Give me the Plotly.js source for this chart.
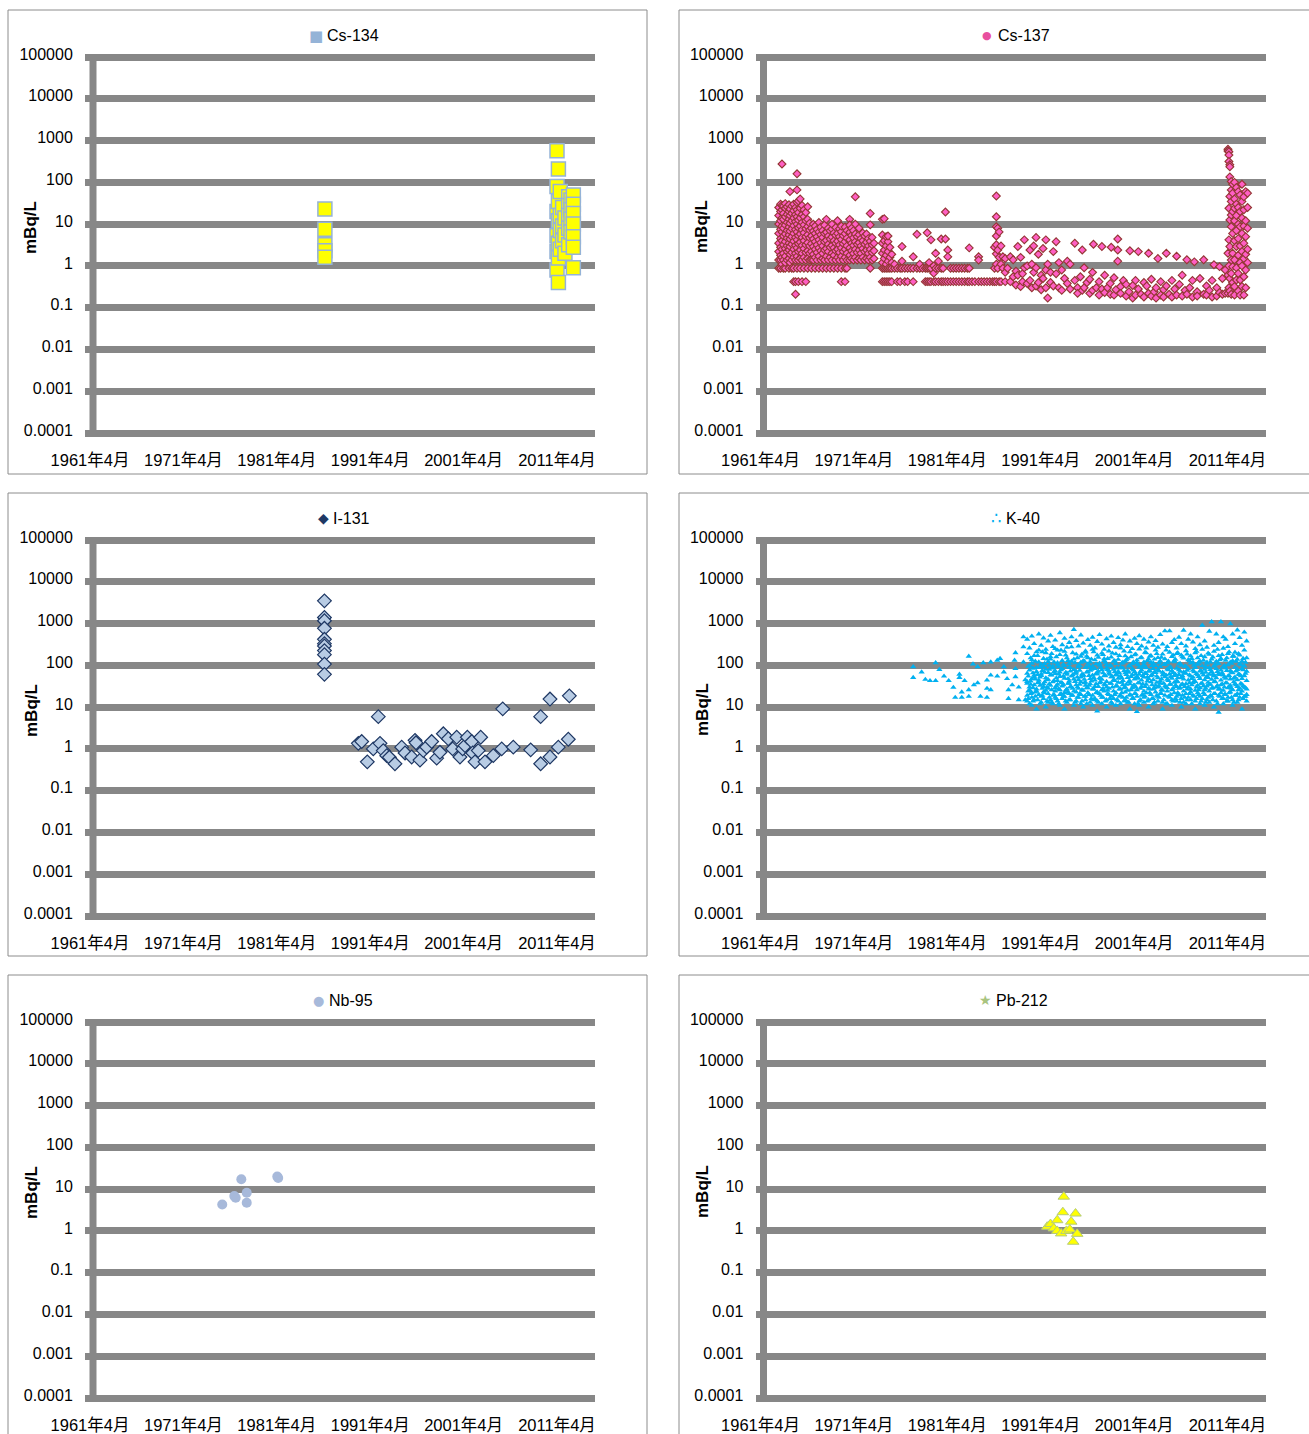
<!DOCTYPE html>
<html><head><meta charset="utf-8">
<script src="https://cdn.plot.ly/plotly-3.0.1.min.js"></script>
<style>body{margin:0;background:#fff}#chart{width:1309px;height:1434px}</style>
</head><body><div id="chart"></div>
<script>
// ---------- tick labels / names ----------
const xTickVals=[1961.25,1971.25,1981.25,1991.25,2001.25,2011.25];
const xTickText=['1961年4月','1971年4月','1981年4月','1991年4月','2001年4月','2011年4月'];
const yTickVals=[1e-4,1e-3,1e-2,0.1,1,10,100,1000,10000,100000];
const yTickText=['0.0001','0.001','0.01','0.1','1','10','100','1000','10000','100000'];
const seriesNames=['Cs-134','Cs-137','I-131','K-40','Nb-95','Pb-212'];
const yTitle='mBq/L';

// ---------- data: [decimal year, [values mBq/L]] ----------
const cs134=[[1986.4,[23,7.5,3.2,2.3,1.6]],
[2011.25,[570,80,20,5.3,2.2,0.8]],[2011.4,[210,35,12,3.5,1.55,0.4]],[2011.6,[60,16,7,2.5]],[2011.85,[25,9,4]],[2012.1,[14,5.5,2.0]],
[2012.5,[45,28,16,8,3.2]],[2012.75,[38,22,13,6.5]],[2013.0,[50,30,18,10,5,2.8,0.9]]];

const cs137=[[1963.2,[0.88,1.38,2.2,3.5,6,10,16,25]],[1963.4,[0.88,1.38,1.8,2.8,4.5,7.5,12,20,30]],[1963.55,[275,1.1,1.6,2.5,4,6.5,9,14,22,28]],
[1963.7,[0.88,1.38,2,3.2,5.2,8,13,18,27]],[1963.9,[0.88,1.2,1.7,2.6,3.8,5.8,9.5,15,24,31]],[1964.1,[1.38,2.2,3,4.6,7,11,17,26]],
[1964.3,[0.88,1.5,2.4,3.5,5.5,8.5,13,20,29]],[1964.4,[60,1.2,1.9,2.9,4.4,6.8,10.5,16,23]],[1964.6,[0.88,1.38,2.1,3.3,5,7.7,12,18,27]],
[1964.8,[0.42,0.88,1.6,2.5,3.9,6,9.2,14,21,30]],[1965.0,[0.21,0.42,1.38,2,3.1,4.8,7.4,11.5,17,25]],[1965.16,[160,66,0.88,1.7,2.7,4.2,6.5,10,15,22,33]],
[1965.3,[0.42,1.38,2.2,3.4,5.3,8.2,12.5,19,36]],[1965.5,[0.88,1.5,2.4,3.7,5.8,9,14,24,40]],[1965.7,[0.42,1.38,2,3.1,4.8,7.3,11,17,28]],
[1965.9,[0.88,1.6,2.6,4,6.2,9.6,15,22]],[1966.1,[0.42,1.38,2.1,3.2,5,7.8,12,19]],[1966.3,[0.88,1.5,2.3,3.6,5.6,8.8,13,26]],
[1966.5,[1.38,2.0,3.0,4.7,7.2,10.5]],[1966.7,[0.88,1.4,2.2,3.4,5.2,8]],[1966.9,[1.38,1.9,2.9,4.4,6.8,10]],[1967.1,[0.88,1.6,2.5,3.8,6,9]],
[1967.3,[1.38,2.1,3.2,5,7.5]],[1967.5,[0.88,1.7,2.7,4.2,6.5,11]],[1967.7,[1.38,2.3,3.6,5.6,8.5]],[1967.9,[0.88,1.5,2,3,4.8,7]],
[1968.1,[1.38,2.4,3.8,6,9.5]],[1968.3,[0.88,1.7,2.6,4.1,6.4,13]],[1968.5,[1.38,2.2,3.3,5.2,8]],[1968.7,[0.88,1.6,2.8,4.4,6.9]],
[1968.9,[1.38,2,3.1,4.9,7.6,10]],[1969.1,[0.88,1.8,2.7,4,6.1]],[1969.3,[1.38,2.3,3.5,5.4,8.3]],[1969.5,[0.88,1.6,2.5,3.9,6,12]],
[1969.7,[1.38,2.1,3.2,5,7.7]],[1969.9,[0.42,0.88,1.7,2.7,4.3,6.6,9]],[1970.1,[1.38,2.2,3.4,5.3]],[1970.3,[0.42,0.88,1.6,2.5,3.8,5.9,8.5]],
[1970.5,[0.88,1.38,2.0,3.0,4.6,7]],[1970.8,[13,1.38,1.8,2.7,4.2,6.4,9.5]],[1971.0,[1.5,2.3,3.5,5.4,8]],[1971.2,[1.38,2.0,3.1,4.7,7]],
[1971.4,[45,1.6,2.5,3.8,5.8,10]],[1971.6,[1.38,2.1,3.3,5]],[1971.8,[1.5,2.4,3.6,5.6,8]],[1972.0,[1.38,2,3,4.5]],[1972.2,[1.6,2.6,4,6.1]],
[1972.4,[1.38,2.2,3.3,5.2]],[1972.6,[1.5,2.4,3.7,5.8]],[1972.8,[1.38,2,3.0,4.5]],[1973.0,[18,9.6,0.88,1.6,2.5,3.9]],[1973.2,[1.38,2.1,3.2,4.8]],
[1973.4,[1.5,2.3,3.5]],
[1974.3,[0.42,0.88,1.2,2,3.5,5.5,13]],[1974.5,[0.42,0.88,1.5,2.4,4,13.5]],[1974.7,[0.42,0.88,1.1,1.8,3,5]],[1974.9,[0.42,0.88,1.3,2.2,3.8,5.2]],
[1975.1,[0.42,0.88,1.6,2.8]],[1975.3,[0.42,0.88,1.2,1.9]],
[1975.6,[0.88,1.1]],[1975.9,[0.88,0.42]],[1976.2,[0.88,0.42]],[1976.4,[2.9,0.88,1.3]],[1976.7,[0.88,0.42]],[1977.0,[0.88,0.42]],[1977.3,[0.88]],
[1977.6,[1.65,0.88,0.42]],[1978.0,[5.7,0.88]],[1978.3,[0.88,1.1]],[1978.6,[0.88]],[1978.9,[0.88,0.42]],[1979.1,[6.2,0.88,0.42]],
[1979.3,[0.88,0.42,1.2]],[1979.5,[4.2,0.88,0.42]],[1979.8,[0.67,0.42,1.0]],[1980.0,[2.0,0.88,0.42]],[1980.3,[0.88,0.42,1.3]],
[1980.6,[4.4,0.88,0.42]],[1980.8,[0.88,0.42]],[1981.05,[4.4,19.5,0.42]],[1981.3,[2.4,1.65,0.42]],[1981.6,[0.88,0.42]],[1981.9,[0.88,0.42]],
[1982.2,[0.88,0.42]],[1982.5,[0.88,0.42]],[1982.8,[0.88,0.42]],[1983.1,[0.88,0.42]],[1983.4,[0.88,0.42]],[1983.6,[2.7,0.88,0.42]],
[1983.9,[0.42]],[1984.2,[0.42]],[1984.6,[1.65,1.38,0.42]],[1984.9,[0.42]],[1985.2,[0.42]],[1985.5,[0.42]],[1985.8,[0.42]],[1986.1,[0.42]],
[1986.3,[0.42,0.88,2.8]],[1986.5,[47,15,8.7,5.2,3.2,1.95,1.1,0.42]],[1986.65,[8,2.4,0.88]],[1986.8,[6.5,1.6,0.42]],
[1987.0,[3.0,1.1,0.42]],[1987.2,[1.65,0.88]],[1987.45,[1.5,0.7,0.42]],[1987.7,[0.88]],[1988.0,[1.65,0.42]],
[1988.3,[1.4,0.55]],[1988.6,[0.75,0.35]],[1988.8,[2.9,0.6]],[1989.1,[1.6,0.32]],[1989.3,[0.65,0.42]],
[1989.5,[4.2,0.9]],[1989.8,[1.0,0.38]],[1990.1,[2.4,0.45]],[1990.3,[1.1,0.3]],[1990.5,[3.0,0.7]],
[1990.75,[4.8,0.9,0.33]],[1991.0,[1.9,0.4]],[1991.3,[0.6,0.27]],[1991.5,[2.6,0.5]],[1991.8,[4.2,0.8,0.3]],
[1992.0,[0.17,1.1]],[1992.3,[0.7,0.4]],[1992.6,[2.2,0.33]],[1992.9,[3.8,0.65]],[1993.2,[1.2,0.3]],
[1993.5,[0.8,0.26]],[1993.8,[0.5]],[1994.1,[1.3,0.38]],
[1994.4,[1.1,0.28]],[1994.9,[3.5,0.45]],[1995.2,[0.3,0.22]],[1995.5,[0.55]],[1995.7,[2.4,0.26]],[1995.9,[0.9,0.3]],
[1996.2,[0.4]],[1996.5,[0.48,0.22]],[1996.8,[0.7,0.26]],[1996.9,[3.3]],[1997.2,[0.3]],[1997.5,[0.42,0.2]],
[1997.8,[2.9,0.28]],[1998.1,[0.6,0.23]],[1998.4,[0.3]],[1998.7,[0.38,0.21]],[1998.8,[2.8]],[1999.1,[0.52,0.2]],
[1999.3,[0.27]],[1999.5,[4.4,2.4,1.3]],[1999.8,[0.32,0.22]],[2000.1,[0.45]],[2000.4,[0.36,0.19]],[2000.7,[0.24]],
[2000.8,[2.3]],[2001.1,[0.34,0.17]],[2001.4,[0.45,0.2]],[2001.7,[2.2,0.28]],[2002.0,[0.21]],[2002.3,[0.4,0.18]],
[2002.6,[0.33]],[2002.8,[2.0,0.22]],[2003.1,[0.48,0.19]],[2003.4,[0.24]],[2003.6,[0.3,0.17]],[2003.8,[1.5]],
[2004.1,[0.42,0.2]],[2004.4,[0.27,0.18]],[2004.7,[2.0,0.33]],[2005.0,[0.21]],[2005.3,[0.45,0.18]],[2005.6,[0.28]],
[2005.8,[1.7,0.2]],[2006.1,[0.36]],[2006.4,[0.6,0.19]],[2006.7,[0.26]],[2006.9,[1.4,0.21]],[2007.2,[0.3]],
[2007.5,[0.45,0.18]],[2007.7,[1.25]],[2008.0,[0.24,0.19]],[2008.3,[0.5]],[2008.7,[1.4,0.21]],[2009.0,[0.33,0.2]],
[2009.3,[0.26]],[2009.6,[0.45,0.18]],[2009.8,[1.07]],[2010.1,[0.3,0.19]],[2010.4,[0.96,0.23]],[2010.7,[0.5,0.21]],
[2011.0,[0.8,0.22]],
[2011.3,[620,560,2.0,0.6,0.22]],[2011.4,[540,450,315,24,4.2,1.0,0.3]],[2011.5,[265,235,135,46,12.6,2.9,0.5,0.25]],
[2011.65,[105,66,35,16.5,8.7,1.38,0.66,0.21]],[2011.8,[90,55,20,6,2.0,0.96,0.4]],[2012.0,[100,40,24,12,4,1.4,0.32,0.2]],
[2012.2,[75,30,16,7,2.9,0.9,0.46]],[2012.4,[60,25,10,4.5,1.8,0.66,0.25]],[2012.6,[50,20,8.7,3,1.2,0.46,0.2]],
[2012.8,[90,35,14,6,2.2,1.0,0.32]],[2013.0,[45,22,9,3.5,1.5,0.55,0.2]],[2013.2,[60,12,5,1.9,0.8,0.3]],[2013.4,[55,25,8,2.5,1.2]]];

const i131=[[1986.35,[3500,1400,1170,770,420,330,290,225,180,107,61]],
[1989.98,[1.36]],[1990.34,[1.5]],[1990.94,[0.49]],[1991.58,[1.0]],[1992.12,[5.9]],[1992.3,[1.36]],[1992.65,[0.91]],[1993.02,[0.69]],
[1993.3,[0.63]],[1993.9,[0.44]],[1994.62,[1.1]],[1994.98,[0.8]],[1995.69,[0.64]],[1996.05,[1.6]],[1996.15,[1.4]],[1996.58,[0.54]],
[1996.94,[0.91]],[1997.3,[1.1]],[1997.83,[1.5]],[1998.37,[0.6]],[1998.72,[0.83]],[1999.08,[2.3]],[1999.61,[1.75]],[2000.08,[1.0]],
[2000.51,[1.9]],[2000.86,[0.64]],[2001.15,[1.0]],[2001.4,[1.2]],[2001.65,[1.9]],[2002.12,[1.5]],[2002.22,[0.8]],[2002.47,[0.49]],
[2002.82,[0.91]],[2003.08,[1.9]],[2003.54,[0.49]],[2004.43,[0.69]],[2005.33,[1.0]],[2005.44,[9.1]],[2006.57,[1.1]],[2008.43,[0.95]],
[2009.5,[5.9,0.44]],[2010.5,[15.6,0.64]],[2011.39,[1.1]],[2012.46,[1.7]],[2012.57,[18.6]]];

const k40=[[1977.6,[92,51]],[1978.5,[69]],[1978.9,[46]],[1979.4,[43]],[1980.0,[43,115]],[1980.4,[79]],[1980.9,[55]],[1981.4,[43]],
[1981.9,[29.5]],[1982.1,[17]],[1982.55,[61,51]],[1982.8,[17,23]],[1983.1,[43]],[1983.55,[165,26,18]],[1984.0,[107]],[1984.1,[34]],
[1984.5,[92,38]],[1984.8,[18]],[1985.1,[115]],[1985.5,[17,44,28]],[1985.9,[120,58,26]],[1986.6,[132,55]],[1986.9,[145]],[1987.3,[69,92]],
[1987.65,[48]],[1987.8,[16,26]],[1988.2,[34]],[1988.45,[132]],[1988.55,[200,83,53]],[1988.9,[15,30]],[1989.4,[480,275,120]],[1989.6,[15,45]],
[1989.8,[420,190,64,41,37,19,14]],[1990.05,[260,98,77,30,26,12]],[1990.3,[500,135,112,48,22,17,11]],[1990.55,[330,170,58,53,34,15]],
[1990.8,[210,88,71,27,24,9]],[1991.05,[560,230,120,44,39,20]],[1991.3,[300,105,62,57,18,13]],[1991.55,[450,145,93,36,31,23,16]],
[1991.8,[240,200,81,50,25,10]],[1992.05,[380,122,67,46,28,21,13]],[1992.3,[520,160,140,59,33,15]],[1992.55,[280,95,86,40,19,12]],
[1992.8,[400,250,74,63,29,24,17]],[1993.05,[230,115,102,43,35,14]],[1993.3,[600,180,69,54,26,20,11]],[1993.55,[310,130,84,38,32,16]],
[1993.8,[440,215,97,49,22,18,9]],[1994.05,[270,150,66,61,27,13]],[1994.3,[350,110,90,42,37,21,15]],[1994.55,[480,275,125,55,30,19]],
[1994.8,[720,140,79,47,24,11]],[1995.05,[390,185,72,65,34,23,14]],[1995.3,[290,100,92,45,28,17]],[1995.55,[530,165,118,52,40,20,12]],
[1995.8,[340,128,60,56,25,10]],[1996.05,[220,205,88,39,33,18,15]],[1996.3,[410,150,107,70,29,22]],[1996.55,[300,120,76,48,36,13]],
[1996.8,[470,240,95,58,27,19,11]],[1997.05,[260,135,83,44,31,16]],[1997.3,[370,175,68,62,23,14,8]],[1997.55,[540,112,101,50,38,21]],
[1997.8,[320,195,78,46,26,17,12]],[1998.05,[240,143,130,57,35,24]],[1998.3,[430,103,85,41,30,15,10]],[1998.55,[290,220,73,64,28,20]],
[1998.8,[500,158,96,53,37,18,13]],[1999.05,[350,125,80,45,24,16]],[1999.3,[270,188,110,60,32,22,11]],[1999.55,[460,138,71,49,39,14]],
[1999.8,[310,260,91,55,27,19,12]],[2000.05,[400,118,86,43,34,17]],[2000.3,[560,168,124,66,30,23,15]],[2000.55,[280,146,75,51,25,13]],
[2000.8,[380,210,99,42,36,20,9]],[2001.05,[250,108,82,59,29,16]],[2001.3,[440,178,70,47,33,21,12]],[2001.55,[330,133,115,54,26,18,7.8]],
[2001.8,[510,245,89,61,38,14,11]],[2002.05,[290,155,77,44,31,19]],[2002.3,[420,120,104,52,24,17,13]],[2002.55,[260,198,87,63,35,22]],
[2002.8,[360,140,72,48,28,15,10]],[2003.05,[480,172,117,56,40,20]],[2003.3,[300,113,84,45,27,16,12]],[2003.55,[390,230,98,67,33,23]],
[2003.8,[270,152,79,50,30,18,14]],[2004.05,[540,127,93,42,37,21]],[2004.3,[320,185,68,58,25,13,9]],[2004.55,[665,142,106,53,32,19]],
[2004.8,[280,115,81,46,29,24,12]],[2005.05,[665,205,90,62,35,17]],[2005.3,[350,162,74,49,26,15,11]],[2005.55,[410,130,121,57,39,22]],
[2005.8,[260,190,85,43,31,18,14]],[2006.05,[470,107,78,60,28,20]],[2006.3,[330,175,100,51,34,16,10]],[2006.55,[690,148,69,47,24,13]],
[2006.8,[290,222,94,64,36,21,12]],[2007.05,[420,136,82,44,30,17]],[2007.3,[560,168,113,55,27,23,15]],[2007.55,[360,118,76,52,38,19]],
[2007.8,[250,200,88,41,25,14,9]],[2008.05,[480,150,105,59,33,22]],[2008.3,[310,126,73,48,29,18,12]],[2008.55,[910,240,97,65,37,16]],
[2008.8,[380,160,80,45,26,20,11]],[2009.05,[270,112,119,54,32,15]],[2009.3,[650,182,87,61,35,24,13]],[2009.55,[1100,140,71,46,28,18]],
[2009.8,[300,215,95,57,40,21,10]],[2010.05,[560,124,83,50,30,14]],[2010.3,[350,170,110,63,27,19,7.5]],[2010.55,[1100,145,77,44,34,22]],
[2010.8,[480,255,92,58,25,16,12]],[2011.05,[420,132,86,49,38,20]],[2011.3,[280,190,102,55,29,17,14]],[2011.55,[985,118,74,47,33,23]],
[2011.8,[560,165,128,66,26,15,11]],[2012.05,[330,205,89,52,36,19]],[2012.3,[700,138,79,45,31,21,13]],[2012.55,[460,176,108,60,28,17]],
[2012.8,[300,125,84,48,35,24,9]],[2013.05,[620,230,96,56,30,18]],[2013.3,[380,150,72,43,27,20,14]],
[1989.925,[95,55,24,16]],[1990.175,[150,42,35,21]],[1990.425,[85,66,29,14]],[1990.675,[125,47,23,18]],[1990.925,[170,60,38,15]],
[1991.175,[90,52,33,12]],[1991.425,[210,75,28,19]],[1991.675,[110,68,40,22]],[1991.925,[140,45,30,14]],[1992.175,[100,80,36,17]],
[1992.425,[190,58,26,13]],[1992.675,[120,70,43,20]],[1992.925,[160,50,32,16]],[1993.175,[92,62,27,12]],[1993.425,[230,78,39,21]],
[1993.675,[105,55,34,18]],[1993.925,[175,67,25,14]],[1994.175,[130,48,37,23]],[1994.425,[88,73,31,15]],[1994.675,[200,59,28,19]],
[1994.925,[115,64,41,13]],[1995.175,[150,52,30,17]],[1995.425,[98,76,35,21]],[1995.675,[185,61,26,14]],[1995.925,[125,46,38,18]],
[1996.175,[165,69,29,12]],[1996.425,[94,57,33,20]],[1996.675,[140,80,42,16]],[1996.925,[210,51,27,15]],[1997.175,[108,63,36,22]],
[1997.425,[155,72,31,13]],[1997.675,[90,48,40,19]],[1997.925,[180,66,28,17]],[1998.175,[118,56,34,14]],[1998.425,[145,79,25,21]],
[1998.675,[100,61,37,16]],[1998.925,[195,53,30,12]],[1999.175,[128,70,43,20]],[1999.425,[86,58,32,15]],[1999.675,[170,65,27,18]],
[1999.925,[112,50,39,22]],[2000.175,[220,74,29,14]],[2000.425,[135,60,35,17]],[2000.675,[96,68,41,13]],[2000.925,[160,54,26,19]],
[2001.175,[120,77,33,16]],[2001.425,[185,62,30,21]],[2001.675,[102,49,38,12]],[2001.925,[150,71,28,15]],[2002.175,[92,57,36,20]],
[2002.425,[205,66,31,18]],[2002.675,[130,52,42,14]],[2002.925,[165,75,27,22]],[2003.175,[98,60,34,16]],[2003.425,[140,69,29,13]],
[2003.675,[190,55,39,19]],[2003.925,[115,73,32,17]],[2004.175,[155,47,26,21]],[2004.425,[104,64,37,15]],[2004.675,[230,58,30,12]],
[2004.925,[125,78,43,18]],[2005.175,[90,53,35,20]],[2005.425,[175,67,28,14]],[2005.675,[138,61,33,16]],[2005.925,[200,50,40,22]],
[2006.175,[110,72,29,13]],[2006.425,[160,56,36,19]],[2006.675,[95,65,31,17]],[2006.925,[185,76,27,15]],[2007.175,[128,59,38,21]],
[2007.425,[145,48,34,12]],[2007.675,[100,70,42,18]],[2007.925,[215,63,30,16]],[2008.175,[118,54,26,20]],[2008.425,[170,74,37,14]],
[2008.675,[132,58,32,22]],[2008.925,[92,68,28,13]],[2009.175,[195,51,39,17]],[2009.425,[120,79,35,19]],[2009.675,[158,62,29,15]],
[2009.925,[105,55,41,21]],[2010.175,[240,71,33,12]],[2010.425,[135,60,27,18]],[2010.675,[180,66,36,16]],[2010.925,[98,52,30,20]],
[2011.175,[150,75,38,14]],[2011.425,[210,57,31,22]],[2011.675,[112,69,28,17]],[2011.925,[165,49,40,13]],[2012.175,[125,73,34,19]],
[2012.425,[190,61,26,15]],[2012.675,[102,56,37,21]],[2012.925,[145,78,32,16]],[2013.175,[118,64,29,18]]];

const nb95=[[1975.41,[4.3]],[1976.7,[6.8]],[1976.85,[6.2]],[1977.45,[17.2]],[1978.03,[8.2,4.7]],[1981.3,[20]],[1981.4,[18.5]]];

const pb212=[[1991.95,[1.26]],[1992.3,[1.46]],[1992.65,[1.15]],[1993.02,[1.8,1.0]],[1993.44,[0.87]],[1993.62,[2.8]],[1993.72,[6.6]],
[1994.01,[1.0]],[1994.37,[1.08]],[1994.52,[1.66]],[1994.73,[0.55]],[1994.98,[2.6]],[1995.16,[0.85]]];

// ---------- styling ----------
const W=1309,H=1434,GRID='#878787';
const FONT="'Liberation Sans', Arial, 'Noto Sans CJK JP', sans-serif";
const pxYear=9.34, x0px=[90,760.5], padL=5, plotW=510;
const rowTop=[57,540,1022], dec=41.78, pad=0.1;
const xr=[1961.25-padL/pxYear, 1961.25+(plotW-padL)/pxYear];

function flat(cols){const x=[],y=[];cols.forEach(c=>c[1].forEach(v=>{x.push(c[0]);y.push(v);}));return {x,y};}

const series=[
 {d:cs134, m:{symbol:'square',size:14,color:'#FFFF00',line:{color:'#95B3D7',width:1.5}}, leg:{g:'■',c:'#95B3D7',s:15,gx:316,tx:325}},
 {d:cs137, m:{symbol:'diamond',size:6,color:'#FF5EC4',line:{color:'#953735',width:1.15}}, leg:{g:'●',c:'#E8509F',s:11,gx:987,tx:996}},
 {d:i131, m:{symbol:'diamond',size:10.5,color:'#B8CCE4',line:{color:'#1F3864',width:1.2}}, leg:{g:'◆',c:'#1F3864',s:14,gx:323,tx:331}},
 {d:k40, m:{symbol:'triangle-up',size:5.5,color:'#00B0F0',line:{width:0}}, leg:{g:'∴',c:'#00B0F0',s:17,gx:996,tx:1004}},
 {d:nb95, m:{symbol:'circle',size:10,color:'#A7B9DA',line:{width:0}}, leg:{g:'●',c:'#A7B9DA',s:13,gx:318,tx:327}},
 {d:pb212, m:{symbol:'triangle-up',size:10,color:'#FFFF00',line:{color:'#B5CC7A',width:1}}, leg:{g:'★',c:'#A9C47F',s:14,gx:985,tx:994}}
];
const legY=[36,518,1000];
const boxes=[[8,10,647,474],[679,10,1318,474],[8,493,647,956],[679,493,1318,956],[8,975,647,1438],[679,975,1318,1438]];

const traces=[],layout={width:W,height:H,margin:{l:0,r:0,t:0,b:0},paper_bgcolor:'#fff',plot_bgcolor:'rgba(0,0,0,0)',
 showlegend:false,hovermode:false,font:{family:FONT,color:'#000'},shapes:[],annotations:[]};

series.forEach((s,k)=>{
 const r=Math.floor(k/2), c=k%2, id=k===0?'':String(k+1);
 const left=x0px[c]-padL, top=rowTop[r]-pad*dec, bot=rowTop[r]+(9+pad)*dec;
 const p=flat(s.d);
 traces.push({type:'scatter',mode:'markers',x:p.x,y:p.y,xaxis:'x'+id,yaxis:'y'+id,marker:s.m,name:seriesNames[k]});
 layout['xaxis'+id]={domain:[left/W,(left+plotW)/W],range:xr,anchor:'y'+id,showgrid:false,zeroline:false,showline:false,
   tickmode:'array',tickvals:xTickVals,ticktext:xTickText,ticks:'outside',ticklen:8,tickcolor:'rgba(0,0,0,0)',
   tickfont:{family:FONT,size:16.5,color:'#000'}};
 layout['yaxis'+id]={domain:[1-bot/H,1-top/H],type:'log',range:[-4-pad,5+pad],anchor:'x'+id,showgrid:true,gridcolor:GRID,gridwidth:7,
   zeroline:false,showline:false,tickmode:'array',tickvals:yTickVals,ticktext:yTickText,ticks:'outside',ticklen:8,
   tickcolor:'rgba(0,0,0,0)',ticklabelshift:-3,tickfont:{family:FONT,size:16,color:'#000'}};
 const ax=1961.25+3/pxYear;
 layout.shapes.push({type:'line',xref:'x'+id,yref:'y'+id+' domain',x0:ax,x1:ax,y0:pad/(9+2*pad),y1:(9+pad)/(9+2*pad),
   line:{color:GRID,width:7},layer:'below'});
 const b=boxes[k];
 layout.shapes.push({type:'rect',xref:'paper',yref:'paper',x0:b[0]/W,x1:b[2]/W,y0:1-b[3]/H,y1:1-b[1]/H,line:{color:'#8C8C8C',width:1},layer:'below'});
 layout.annotations.push({xref:'paper',yref:'paper',x:s.leg.gx/W,y:1-legY[r]/H,xanchor:'center',yanchor:'middle',showarrow:false,
   text:s.leg.g,font:{family:'DejaVu Sans',size:s.leg.s,color:s.leg.c}});
 layout.annotations.push({xref:'paper',yref:'paper',x:s.leg.tx/W,y:1-legY[r]/H,xanchor:'left',yanchor:'middle',showarrow:false,
   text:seriesNames[k],font:{family:FONT,size:16,color:'#000'}});
 layout.annotations.push({xref:'paper',yref:'paper',x:(31+c*671)/W,y:1-(rowTop[r]+170)/H,xanchor:'center',yanchor:'middle',showarrow:false,
   textangle:-90,text:'<b>'+yTitle+'</b>',font:{family:FONT,size:17,color:'#000'}});
});

Plotly.newPlot('chart',traces,layout,{staticPlot:true});
</script>
</body></html>
